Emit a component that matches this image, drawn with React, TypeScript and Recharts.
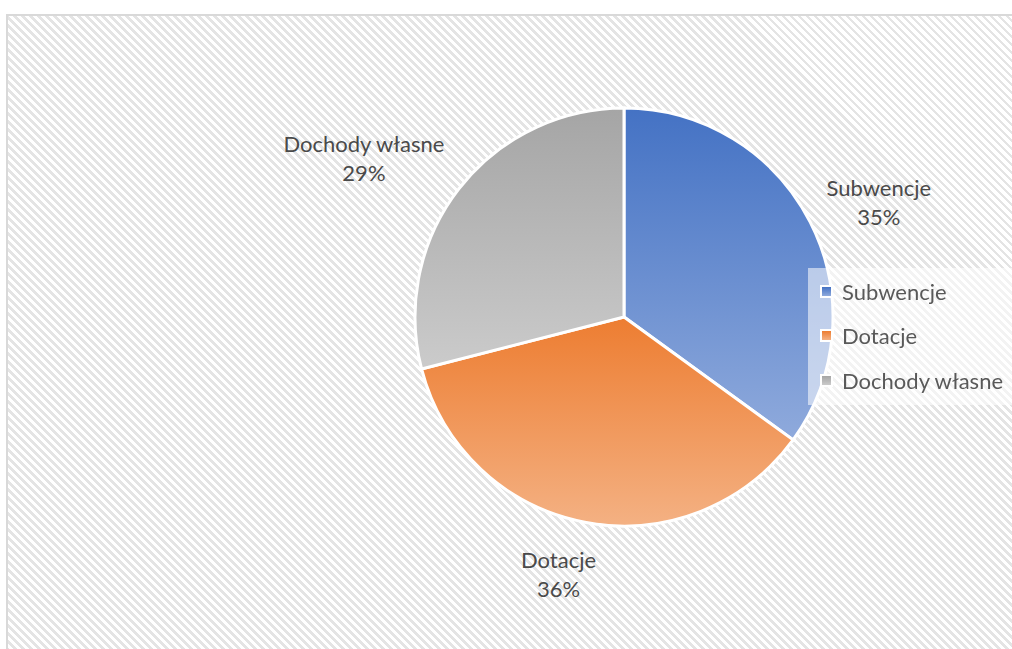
import { PieChart, Pie, Cell, Legend } from "recharts";

const CATEGORIES = ["Subwencje", "Dotacje", "Dochody własne"];
const VALUES = [35, 36, 29];
const TOP_COLORS = ["#4472C4", "#ED7D31", "#A5A5A5"];
const BOTTOM_COLORS = ["#8FAADC", "#F4B183", "#CBCBCB"];

const data = CATEGORIES.map((name, i) => ({ name, value: VALUES[i] }));

const FONT = "Lato, 'Open Sans', sans-serif";
const TEXT = "#4a4a4a";

const renderLabel = (props: any) => {
  const { cx, cy, midAngle, outerRadius, name, percent } = props;
  const rad = (-midAngle * Math.PI) / 180;
  const dx = Math.cos(rad);
  const dy = Math.sin(rad);
  const w = name.length * 11.3;
  const h = 58;
  const m = Math.max(Math.abs(dx), Math.abs(dy));
  const px = cx + dx * (outerRadius + 20) + ((dx / m) * w) / 2 - (Math.abs(dx) < 0.4 ? 15 : 0);
  const py = cy + dy * (outerRadius + 20) + ((dy / m) * h) / 2 + 4;
  return (
    <text textAnchor="middle" fill={TEXT} style={{ fontFamily: FONT, fontSize: 22 }}>
      <tspan x={px} y={py - 6.5}>{name}</tspan>
      <tspan x={px} y={py + 22.5}>{Math.round(percent * 100)}%</tspan>
    </text>
  );
};

const LegendBox = () => (
  <div style={{ background: "rgba(255,255,255,0.55)", width: 220, height: 137, paddingTop: 1, boxSizing: "border-box" }}>
    {CATEGORIES.map((c, i) => (
      <div key={c} style={{ display: "flex", alignItems: "center", height: 44.5, fontFamily: FONT, fontSize: 22, color: "#595959" }}>
        <span style={{
          display: "inline-block", width: 9, height: 9, marginLeft: 12, marginRight: 9,
          border: "2px solid #fff",
          background: `linear-gradient(${TOP_COLORS[i]}, ${BOTTOM_COLORS[i]})`,
        }} />
        {c}
      </div>
    ))}
  </div>
);

export default function App() {
  return (
    <div style={{
      position: "fixed", left: 6, top: 14, width: 1010, height: 640,
      border: "2px solid #D9D9D9",
      background: "repeating-linear-gradient(45deg, #ffffff 0px, #ffffff 3px, #e4e4e4 3px, #e4e4e4 5.66px)",
    }}>
      <PieChart width={1010} height={640}>
        <defs>
          {CATEGORIES.map((c, i) => (
            <linearGradient key={c} id={`grad${i}`} x1="0" y1="0" x2="0" y2="1">
              <stop offset="0%" stopColor={TOP_COLORS[i]} />
              <stop offset="100%" stopColor={BOTTOM_COLORS[i]} />
            </linearGradient>
          ))}
        </defs>
        <Pie
          data={data}
          dataKey="value"
          nameKey="name"
          cx={611}
          cy={296}
          outerRadius={209}
          startAngle={90}
          endAngle={-270}
          stroke="#ffffff"
          strokeWidth={3}
          label={renderLabel}
          labelLine={false}
          isAnimationActive={false}
        >
          {data.map((d, i) => (
            <Cell key={d.name} fill={`url(#grad${i})`} />
          ))}
        </Pie>
        <Legend
          content={<LegendBox />}
          wrapperStyle={{ position: "absolute", left: 800, top: 252, width: 220, height: 137 }}
        />
      </PieChart>
    </div>
  );
}
